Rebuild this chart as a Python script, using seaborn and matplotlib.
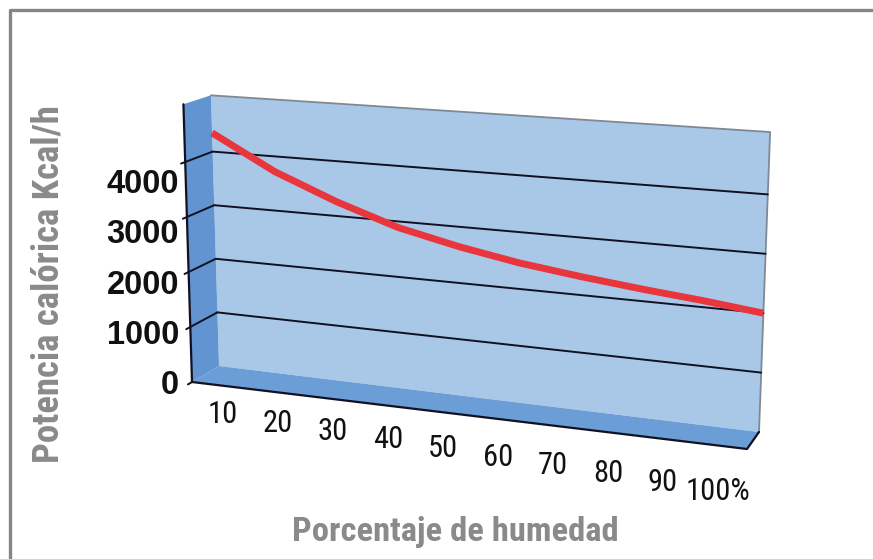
import matplotlib
matplotlib.use("Agg")
import matplotlib.pyplot as plt
import matplotlib.transforms as mtransforms
from matplotlib import font_manager as fm
import seaborn as sns
import numpy as np
import pandas as pd

# datos
humedad = [10, 20, 30, 40, 50, 60, 70, 80, 90, 100]
potencia = [4350, 3720, 3260, 2890, 2645, 2455, 2320, 2207, 2112, 2000]
marcas_y = [0, 1000, 2000, 3000, 4000]
etiquetas_x = ['10', '20', '30', '40', '50', '60', '70', '80', '90', '100%']

datos = pd.DataFrame({'humedad': humedad, 'potencia': potencia})


class Bilineal(mtransforms.Transform):
    """Lleva un rectangulo de datos a un cuadrilatero en pixeles."""
    input_dims = 2
    output_dims = 2

    def __init__(self, rango_x, rango_y, esquinas):
        super().__init__()
        self.rx = rango_x
        self.ry = rango_y
        # orden: (x0,y0), (x1,y0), (x0,y1), (x1,y1)
        self.esq = np.asarray(esquinas, dtype=float)

    def transform_non_affine(self, values):
        v = np.atleast_2d(np.asarray(values, dtype=float))
        u = (v[:, 0] - self.rx[0]) / (self.rx[1] - self.rx[0])
        w = (v[:, 1] - self.ry[0]) / (self.ry[1] - self.ry[0])
        a, b, c, d = self.esq
        return (((1 - u) * (1 - w))[:, None] * a + (u * (1 - w))[:, None] * b
                + ((1 - u) * w)[:, None] * c + (u * w)[:, None] * d)


def fuente_estrecha():
    candidatas = [('Roboto Condensed', 'normal'), ('Liberation Sans Narrow', 'normal'),
                  ('DejaVu Sans Condensed', 'normal'), ('DejaVu Sans', 'condensed'),
                  ('Roboto', 'condensed'), ('Open Sans', 'condensed')]
    for fam, est in candidatas:
        try:
            ruta = fm.findfont(fm.FontProperties(family=fam, stretch=est, weight='bold'),
                               fallback_to_default=False)
        except ValueError:
            continue
        if 'ondensed' in ruta or 'arrow' in ruta:
            return fam, est
    return 'Liberation Sans', 'normal'


def ajustar(texto, largo, vertical=False):
    # escala el cuerpo de letra hasta que el texto ocupe el largo pedido
    rend = fig.canvas.get_renderer()
    for _ in range(3):
        caja = texto.get_window_extent(rend)
        medida = caja.height if vertical else caja.width
        texto.set_fontsize(texto.get_fontsize() * largo / medida)


sns.set_theme(style="white")
plt.rcParams['font.family'] = ['Liberation Sans', 'DejaVu Sans']
fam_estrecha, estiramiento = fuente_estrecha()

fig = plt.figure(figsize=(8.73, 5.59), dpi=100)
ax = fig.add_axes([0, 0, 1, 1])
ax.set_xlim(0, 873)
ax.set_ylim(559, 0)
ax.axis('off')

tope = 5050
fondo = Bilineal((10, 100), (0, 5000), [(219, 366), (759, 432), (211, 98), (770, 135)]) + ax.transData
pared = Bilineal((0, 1), (0, 5000), [(192, 382), (219, 366), (183.5, 107), (211, 98)]) + ax.transData
piso = Bilineal((10, 100), (0, 1), [(192, 382), (747, 449), (219, 366), (759, 432)]) + ax.transData

# caja 3D
ax.fill([10, 100, 100, 10], [0, 0, tope, tope], transform=fondo, color='#a9c8e8', lw=0)
ax.fill([10, 100, 100, 10], [0, 0, 1, 1], transform=piso, color='#6b9dd6', lw=0)
ax.fill([0, 1, 1, 0], [0, 0, tope, tope], transform=pared, color='#6194d0', lw=0)
ax.plot([10, 100, 100], [tope, tope, 0], transform=fondo, color='#7f8994', lw=1.3)

# lineas de division
for v in marcas_y:
    ax.plot([-0.15, 0], [v, v], transform=pared, color='#111122', lw=1.4)
    if v > 0:
        ax.plot([0, 1], [v, v], transform=pared, color='#111122', lw=1.4)
        ax.plot([10, 100], [v, v], transform=fondo, color='#111122', lw=1.4)

ax.plot([0, 0], [0, tope], transform=pared, color='#111122', lw=1.6)
ax.plot([10, 100, 100], [0, 0, 1], transform=piso, color='#111122', lw=1.6)

# curva
sns.lineplot(data=datos, x='humedad', y='potencia', ax=ax, transform=fondo,
             color='#e8363c', linewidth=5, solid_joinstyle='round',
             solid_capstyle='butt')

# etiquetas
pos_y = mtransforms.Affine2D.from_values(1, 0, 0, -0.0504, 0, 394.5) + ax.transData
for v in marcas_y:
    ax.text(179, v, f'{v}', transform=pos_y, ha='right', va='baseline',
            fontsize=23.5, fontweight='bold', color='#111111')

pos_x = mtransforms.Affine2D.from_values(5.5, 0.85, 0, 1, 168, 414.5) + ax.transData
for h, et in zip(humedad, etiquetas_x):
    ax.text(h, 0, et, transform=pos_x, ha='center', va='baseline',
            fontsize=22, family=fam_estrecha, fontstretch=estiramiento,
            color='#111111')

titulo_y = ax.text(49, 284, 'Potencia calórica Kcal/h', rotation=90, ha='center', va='center',
                   fontsize=27, fontweight='bold', family=fam_estrecha,
                   fontstretch=estiramiento, color='#8a8a8a')
titulo_x = ax.text(455, 532, 'Porcentaje de humedad', ha='center', va='center',
                   fontsize=24.5, fontweight='bold', family=fam_estrecha,
                   fontstretch=estiramiento, color='#8a8a8a')
ajustar(titulo_y, 358, vertical=True)
ajustar(titulo_x, 325)

# marco
ax.plot([10, 10, 873], [559, 10, 10], color='#858585', lw=2.4, solid_capstyle='butt')

ax.set_xlim(0, 873)
ax.set_ylim(559, 0)
fig.savefig('out.png', dpi=100)
